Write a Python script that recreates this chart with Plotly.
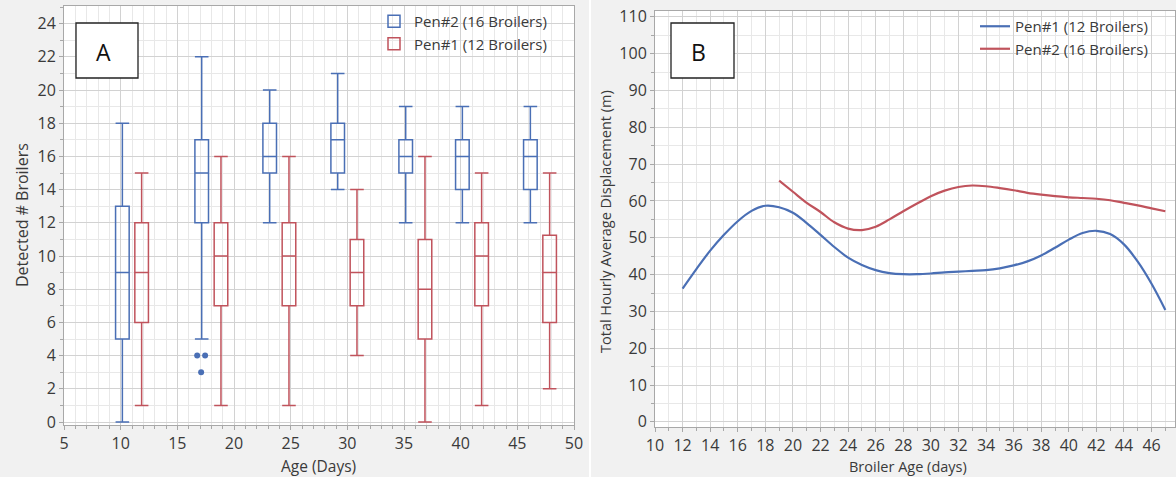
import plotly.graph_objects as go

# ---------------- Panel A data (box plots) ----------------
ages = [11, 18, 24, 30, 36, 41, 47]
pen2_low = [0, 5, 12, 14, 12, 12, 12]
pen2_q1 = [5, 12, 15, 15, 15, 14, 14]
pen2_med = [9, 15, 16, 17, 16, 16, 16]
pen2_q3 = [13, 17, 18, 18, 17, 17, 17]
pen2_high = [18, 22, 20, 21, 19, 19, 19]

pen1_low = [1, 1, 1, 4, 0, 1, 2]
pen1_q1 = [6, 7, 7, 7, 5, 7, 6]
pen1_med = [9, 10, 10, 9, 8, 10, 9]
pen1_q3 = [12, 12, 12, 11, 11, 12, 11.25]
pen1_high = [15, 16, 16, 14, 16, 15, 15]

outlier_x = [16.75, 17.45, 17.1]
outlier_y = [4, 4, 3]

# ---------------- Panel B data (smoothed lines) ----------------
pen1_days = list(range(12, 48))
pen1_disp = [36.2, 41.5, 46.5, 50.8, 54.5, 57.3, 58.7, 58.3, 56.8, 54.0,
             50.8, 47.5, 44.6, 42.6, 41.2, 40.4, 40.1, 40.1, 40.3, 40.6,
             40.8, 41.0, 41.2, 41.7, 42.5, 43.6, 45.2, 47.3, 49.5, 51.3,
             51.9, 51.0, 48.2, 43.5, 37.5, 30.4]
pen2_days = list(range(19, 48))
pen2_disp = [65.5, 62.5, 59.5, 57.0, 54.2, 52.5, 52.1, 53.0, 55.0, 57.2,
             59.3, 61.3, 62.8, 63.8, 64.2, 64.0, 63.5, 62.9, 62.2, 61.7,
             61.3, 61.0, 60.8, 60.6, 60.2, 59.5, 58.8, 58.0, 57.2]

BLUE = "#4a6fb5"
RED = "#c0535c"
TXT = "#3a3a3a"
GRID = "#d2d2d2"
MINOR = "#e8e8e8"
AXL = "#a8a8a8"
FONT = "Open Sans"
W, H = 1176, 477
OFF = 0.85

fig = go.Figure()

fig.add_trace(go.Box(
    x=[a - OFF for a in ages], q1=pen2_q1, median=pen2_med, q3=pen2_q3,
    lowerfence=pen2_low, upperfence=pen2_high, name="Pen#2 (16 Broilers)",
    width=1.2, whiskerwidth=1, boxpoints=False, line=dict(color=BLUE, width=1.5),
    fillcolor="rgba(255,255,255,0)", xaxis="x", yaxis="y", legend="legend"))
fig.add_trace(go.Box(
    x=[a + OFF for a in ages], q1=pen1_q1, median=pen1_med, q3=pen1_q3,
    lowerfence=pen1_low, upperfence=pen1_high, name="Pen#1 (12 Broilers)",
    width=1.2, whiskerwidth=1, boxpoints=False, line=dict(color=RED, width=1.5),
    fillcolor="rgba(255,255,255,0)", xaxis="x", yaxis="y", legend="legend"))
fig.add_trace(go.Scatter(
    x=outlier_x, y=outlier_y, mode="markers", marker=dict(color=BLUE, size=6),
    showlegend=False, xaxis="x", yaxis="y"))

fig.add_trace(go.Scatter(
    x=pen1_days, y=pen1_disp, mode="lines", line=dict(color=BLUE, width=2.2, shape="spline"),
    name="Pen#1 (12 Broilers)", xaxis="x2", yaxis="y2", legend="legend2"))
fig.add_trace(go.Scatter(
    x=pen2_days, y=pen2_disp, mode="lines", line=dict(color=RED, width=2.2, shape="spline"),
    name="Pen#2 (16 Broilers)", xaxis="x2", yaxis="y2", legend="legend2"))

def px_x(p):
    return p / W

def px_y(p):
    return 1 - p / H

axis_common = dict(
    showline=True, linecolor=AXL, linewidth=1, mirror=True, automargin=False,
    ticks="outside", ticklen=4, tickcolor=AXL, showgrid=True, gridcolor=GRID,
    gridwidth=1, zeroline=False, tickfont=dict(family=FONT, size=16, color=TXT),
)

def ann(text, x, y, size, angle=0, color=TXT):
    return dict(text=text, xref="paper", yref="paper", x=px_x(x), y=px_y(y),
                xanchor="center", yanchor="middle", textangle=angle, showarrow=False,
                font=dict(family=FONT, size=size, color=color))

fig.update_layout(
    width=W, height=H, margin=dict(l=0, r=0, t=0, b=0, autoexpand=False),
    paper_bgcolor="#f1f1f1", plot_bgcolor="white",
    font=dict(family=FONT, size=15, color=TXT),
    boxmode="overlay",
    xaxis=dict(**axis_common, domain=[px_x(64), px_x(574)], range=[5, 50], dtick=5,
               tick0=5, anchor="y",
               minor=dict(dtick=1, showgrid=True, gridcolor=MINOR, ticks="outside",
                          ticklen=3, tickcolor=AXL)),
    yaxis=dict(**axis_common, domain=[px_y(425), px_y(6)], range=[-0.18, 25.06],
               dtick=2, tick0=0, anchor="x",
               minor=dict(dtick=1, showgrid=True, gridcolor=MINOR, ticks="outside",
                          ticklen=3, tickcolor=AXL)),
    xaxis2=dict(**axis_common, domain=[px_x(655), px_x(1175)], range=[10, 47.7], dtick=2,
                tick0=10, anchor="y2",
                minor=dict(dtick=1, showgrid=True, gridcolor=MINOR, ticks="outside",
                           ticklen=3, tickcolor=AXL)),
    yaxis2=dict(**axis_common, domain=[px_y(427), px_y(11)], range=[-1.4, 111.6],
                dtick=10, tick0=0, anchor="x2",
                minor=dict(dtick=5, showgrid=True, gridcolor=MINOR, ticks="outside",
                           ticklen=3, tickcolor=AXL)),
    legend=dict(x=px_x(374), y=px_y(5), xanchor="left", yanchor="top",
                bgcolor="rgba(0,0,0,0)", font=dict(family=FONT, size=15, color=TXT),
                tracegroupgap=0, itemwidth=30),
    legend2=dict(x=px_x(975), y=px_y(10), xanchor="left", yanchor="top",
                 bgcolor="rgba(0,0,0,0)", font=dict(family=FONT, size=15, color=TXT),
                 tracegroupgap=0, itemwidth=30),
    shapes=[
        dict(type="line", xref="paper", yref="paper", x0=px_x(590), x1=px_x(590),
             y0=0, y1=1, line=dict(color="white", width=2)),
        dict(type="rect", xref="paper", yref="paper", x0=px_x(76), x1=px_x(138),
             y0=px_y(78), y1=px_y(23), line=dict(color="#222", width=1.3),
             fillcolor="white"),
        dict(type="rect", xref="paper", yref="paper", x0=px_x(671), x1=px_x(734),
             y0=px_y(78), y1=px_y(23), line=dict(color="#222", width=1.3),
             fillcolor="white"),
    ],
    annotations=[
        ann("A", 103, 52, 23, color="#111"),
        ann("B", 698, 52, 23, color="#111"),
        ann("Detected # Broilers", 22, 215, 16, angle=-90),
        ann("Age (Days)", 318, 466, 15.5),
        ann("Total Hourly Average Displacement (m)", 605, 222, 14.5, angle=-90),
        ann("Broiler Age (days)", 908, 466, 14.5),
    ],
)

fig.write_html("out.html")
